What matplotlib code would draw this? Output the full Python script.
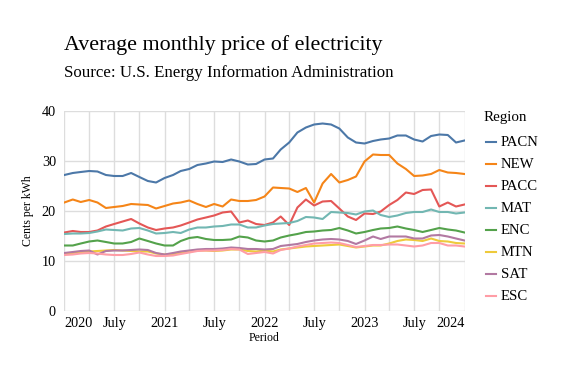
import matplotlib
matplotlib.use("Agg")
import matplotlib.pyplot as plt
import matplotlib.dates as mdates
from matplotlib.lines import Line2D
import pandas as pd

plt.rcParams['font.family'] = ['Liberation Serif', 'DejaVu Serif']

# monthly periods, Jan 2020 .. Jan 2024
periods = pd.date_range("2020-01-01", periods=49, freq="MS")

regions = ["PACN", "NEW", "PACC", "MAT", "ENC", "MTN", "SAT", "ESC"]

pacn = [27.2, 27.6, 27.8, 28.0, 27.9, 27.2, 27.0, 27.0, 27.6, 26.8, 26.0, 25.7,
        26.6, 27.2, 28.0, 28.4, 29.2, 29.5, 29.9, 29.8, 30.3, 29.9, 29.3, 29.4,
        30.3, 30.5, 32.3, 33.7, 35.7, 36.7, 37.3, 37.5, 37.3, 36.5, 34.7, 33.7,
        33.5, 34.0, 34.3, 34.5, 35.1, 35.1, 34.3, 33.9, 35.0, 35.3, 35.2, 33.7,
        34.1]
new = [21.7, 22.3, 21.8, 22.2, 21.7, 20.6, 20.8, 21.0, 21.4, 21.3, 21.2, 20.5,
       21.0, 21.5, 21.7, 22.1, 21.4, 20.8, 21.4, 20.9, 22.3, 22.0, 22.0, 22.2,
       22.9, 24.7, 24.6, 24.5, 23.8, 24.6, 21.7, 25.5, 27.4, 25.7, 26.2, 26.9,
       29.9, 31.3, 31.2, 31.2, 29.5, 28.4, 27.0, 27.1, 27.4, 28.2, 27.7, 27.6,
       27.4]
pacc = [15.7, 16.0, 15.8, 15.8, 16.1, 16.9, 17.4, 17.9, 18.4, 17.5, 16.7, 16.2,
        16.5, 16.7, 17.1, 17.7, 18.3, 18.7, 19.1, 19.7, 19.9, 17.7, 18.1, 17.4,
        17.2, 17.7, 18.9, 17.2, 20.7, 22.3, 21.1, 21.9, 22.0, 20.5, 18.9, 18.2,
        19.5, 19.4, 19.9, 21.2, 22.2, 23.7, 23.4, 24.2, 24.3, 20.9, 21.7, 20.9,
        21.3]
mat = [15.4, 15.5, 15.5, 15.6, 15.9, 16.3, 16.2, 16.1, 16.5, 16.6, 16.1, 15.5,
       15.6, 15.8, 15.6, 16.3, 16.7, 16.7, 16.9, 17.0, 17.3, 17.3, 16.7, 16.7,
       17.1, 17.4, 17.5, 17.6, 18.0, 18.8, 18.7, 18.4, 19.8, 19.7, 19.6, 19.3,
       19.9, 20.1, 19.2, 18.8, 19.1, 19.6, 19.8, 19.8, 20.3, 19.8, 19.8, 19.5,
       19.7]
enc = [13.1, 13.1, 13.5, 13.9, 14.1, 13.8, 13.5, 13.5, 13.8, 14.5, 14.0, 13.5,
       13.1, 13.1, 14.0, 14.6, 14.8, 14.4, 14.2, 14.2, 14.3, 14.9, 14.7, 14.1,
       13.9, 14.1, 14.7, 15.1, 15.4, 15.8, 15.9, 16.1, 16.2, 16.6, 16.1, 15.5,
       15.8, 16.2, 16.5, 16.6, 16.9, 16.5, 16.2, 15.8, 16.2, 16.6, 16.3, 16.1,
       15.7]
mtn = [11.5, 11.6, 11.8, 11.9, 12.0, 12.1, 12.2, 12.1, 12.0, 11.9, 11.9, 11.5,
       11.3, 11.4, 11.6, 11.9, 12.1, 12.1, 12.0, 12.1, 12.3, 12.3, 12.0, 11.9,
       12.1, 11.9, 12.3, 12.5, 12.7, 12.9, 13.0, 13.1, 13.2, 13.3, 13.0, 12.7,
       12.9, 13.1, 13.1, 13.5, 14.0, 14.3, 14.2, 14.0, 14.5, 14.0, 13.9, 13.6,
       13.5]
sat = [11.6, 11.8, 12.0, 12.1, 11.3, 12.0, 12.1, 12.1, 12.2, 12.3, 12.2, 11.6,
       11.3, 11.6, 11.9, 12.1, 12.3, 12.4, 12.4, 12.5, 12.7, 12.6, 12.4, 12.4,
       12.3, 12.4, 13.0, 13.2, 13.4, 13.8, 14.1, 14.3, 14.4, 14.3, 14.0, 13.4,
       14.1, 14.9, 14.4, 14.9, 14.9, 14.9, 14.5, 14.5, 15.1, 15.2, 14.9, 14.5,
       14.1]
esc = [11.2, 11.3, 11.5, 11.6, 11.5, 11.3, 11.2, 11.2, 11.4, 11.7, 11.3, 11.0,
       11.0, 11.1, 11.4, 11.7, 12.0, 12.1, 12.1, 12.2, 12.4, 12.3, 11.4, 11.6,
       11.8, 11.5, 12.2, 12.5, 12.9, 13.2, 13.5, 13.6, 13.7, 13.6, 13.2, 12.8,
       13.0, 13.2, 13.2, 13.3, 13.3, 13.1, 12.9, 13.1, 13.6, 13.6, 13.1, 13.1,
       12.9]

series = [pacn, new, pacc, mat, enc, mtn, sat, esc]
colors = ['#4c78a8', '#f58518', '#e45756', '#72b7b2',
          '#54a24b', '#eeca3b', '#b279a2', '#ff9da6']

W, H = 565, 373
fig = plt.figure(figsize=(W / 100, H / 100), dpi=100)
ax = fig.add_axes([64.3 / W, 1 - 311 / H, 400.2 / W, 200 / H])

for vals, c in zip(series, colors):
    ax.plot(periods, vals, color=c, linewidth=1.5, solid_joinstyle='round', zorder=3)

ax.set_xlim(periods[0], periods[-1])
ax.set_ylim(0, 40)
ax.set_yticks([0, 10, 20, 30, 40])

ax.xaxis.set_major_locator(mdates.MonthLocator(bymonth=[1, 7]))
ax.xaxis.set_minor_locator(mdates.MonthLocator(bymonth=[4, 10]))
ax.xaxis.set_major_formatter(mdates.DateFormatter('%Y'))
fig.canvas.draw()
labels = []
for t in ax.get_xticks():
    d = mdates.num2date(t)
    labels.append(str(d.year) if d.month == 1 else 'July')
ax.set_xticks(ax.get_xticks())
ax.set_xticklabels(labels)
xt = ax.get_xticklabels()
xt[0].set_ha('left')
xt[-1].set_ha('right')

ax.grid(True, which='both', color='#dddddd', linewidth=1, zorder=0)
ax.tick_params(which='both', length=0, labelsize=10.3, colors='black')
ax.tick_params(axis='x', pad=4)
ax.tick_params(axis='y', pad=6)
for s in ax.spines.values():
    s.set_visible(False)

ax.set_ylabel('Cents per kWh', fontsize=8.5, labelpad=6)
ax.set_xlabel('Period', fontsize=8.5, labelpad=2)

fig.text(64 / W, 1 - 50 / H, 'Average monthly price of electricity',
         fontsize=15.8, ha='left', va='baseline')
fig.text(64 / W, 1 - 77 / H, 'Source: U.S. Energy Information Administration',
         fontsize=12.2, ha='left', va='baseline')

# legend
fig.text(484 / W, 1 - 118 / H, 'Region', fontsize=10.8, ha='left', va='center')
for k, (name, c) in enumerate(zip(regions, colors)):
    yy = 1 - (142.3 + 22 * k) / H
    fig.add_artist(Line2D([486 / W, 496 / W], [yy, yy], color=c, linewidth=1.5,
                          transform=fig.transFigure))
    fig.text(501 / W, yy, name, fontsize=10.6, ha='left', va='center')

fig.savefig('out.png', dpi=100)
